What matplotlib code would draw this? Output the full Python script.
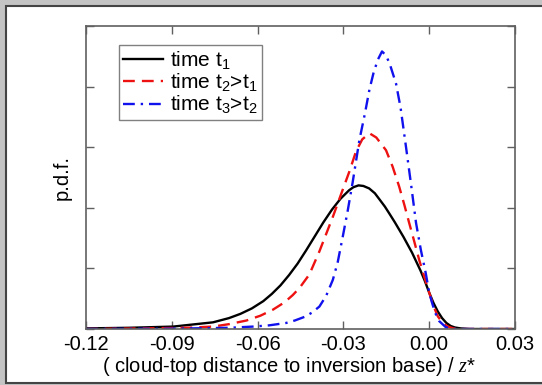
import matplotlib
matplotlib.use("Agg")
import matplotlib.pyplot as plt
from matplotlib.patches import Rectangle

plt.rcParams['font.family'] = ['Liberation Sans', 'DejaVu Sans']
plt.rcParams['mathtext.fontset'] = 'custom'
plt.rcParams['mathtext.it'] = 'Liberation Serif:italic'
plt.rcParams['mathtext.default'] = 'regular'

# pdf of cloud-top distance at three times
x_t1 = [-0.120, -0.105, -0.0895, -0.0756, -0.070, -0.066, -0.062, -0.058, -0.055,
        -0.052, -0.049, -0.046, -0.043, -0.040, -0.037, -0.034, -0.031, -0.028,
        -0.0265, -0.0247, -0.023, -0.021, -0.019, -0.0174, -0.0155, -0.014, -0.012,
        -0.0105, -0.009, -0.0075, -0.006, -0.0046, -0.003, -0.0015, 0.0, 0.0015,
        0.003, 0.0045, 0.006, 0.0075, 0.009, 0.011, 0.014, 0.03]
y_t1 = [0.01, 0.02, 0.04, 0.11, 0.18, 0.25, 0.34, 0.46, 0.58,
        0.72, 0.89, 1.08, 1.30, 1.53, 1.76, 1.97, 2.15, 2.29,
        2.34, 2.37, 2.36, 2.32, 2.24, 2.14, 2.02, 1.91, 1.76,
        1.64, 1.52, 1.39, 1.26, 1.12, 0.96, 0.79, 0.60, 0.43,
        0.29, 0.18, 0.10, 0.05, 0.025, 0.01, 0.0, 0.0]

x_t2 = [-0.120, -0.10, -0.085, -0.0756, -0.070, -0.0639, -0.059, -0.0546, -0.0506,
        -0.0477, -0.0453, -0.0419, -0.0384, -0.0337, -0.031, -0.0279, -0.0256, -0.0234,
        -0.0209, -0.0185, -0.0151, -0.0128, -0.0105, -0.0087, -0.0070, -0.0052, -0.0035,
        -0.0017, 0.0, 0.0015, 0.003, 0.0047, 0.0065, 0.0085, 0.011, 0.03]
y_t2 = [0.0, 0.01, 0.02, 0.04, 0.08, 0.14, 0.22, 0.32, 0.44,
        0.56, 0.68, 0.90, 1.28, 1.85, 2.20, 2.60, 2.93, 3.13,
        3.23, 3.16, 2.95, 2.68, 2.35, 2.05, 1.75, 1.44, 1.14,
        0.86, 0.60, 0.38, 0.21, 0.10, 0.04, 0.01, 0.0, 0.0]

x_t3 = [-0.120, -0.09, -0.070, -0.0616, -0.056, -0.050, -0.047, -0.0436, -0.041,
        -0.0384, -0.036, -0.0337, -0.032, -0.0302, -0.0285, -0.0268, -0.0244, -0.0225,
        -0.0209, -0.0195, -0.0180, -0.0165, -0.0152, -0.0139, -0.0116, -0.010, -0.0081,
        -0.0063, -0.0046, -0.0029, -0.0012, 0.0, 0.0012, 0.0025, 0.0035, 0.0058, 0.008,
        0.03]
y_t3 = [0.0, 0.005, 0.02, 0.04, 0.06, 0.10, 0.14, 0.20, 0.27,
        0.37, 0.55, 0.81, 1.10, 1.53, 1.95, 2.41, 3.12, 3.55,
        3.95, 4.22, 4.44, 4.58, 4.52, 4.39, 4.05, 3.65, 3.00,
        2.37, 1.75, 1.30, 0.92, 0.60, 0.40, 0.22, 0.13, 0.03, 0.0,
        0.0]

labels = ['time t$_1$', 'time t$_2$>t$_1$', 'time t$_3$>t$_2$']
xticks = [-0.12, -0.09, -0.06, -0.03, 0.00, 0.03]

fig = plt.figure(figsize=(5.42, 3.85), dpi=100, facecolor='#c4c4c4')
fig.patches.append(Rectangle((6 / 542, 2 / 385), 1.2, 377 / 385, transform=fig.transFigure,
                             facecolor='white', edgecolor='#444444', lw=1.5, zorder=-1))

ax = fig.add_axes([86 / 542, 1 - 329 / 385, 429 / 542, 303 / 385])
ax.set_zorder(2)
ax.plot(x_t1, y_t1, color='black', lw=1.7, label=labels[0])
ax.plot(x_t2, y_t2, color='#ee1111', lw=1.7, ls=(0, (5, 3)), label=labels[1])
ax.plot(x_t3, y_t3, color='#1111ee', lw=1.7, ls=(0, (5, 2.5, 1, 2.5)), label=labels[2])

ax.set_xlim(-0.12, 0.03)
ax.set_ylim(0, 5)
ax.set_xticks(xticks)
ax.set_xticklabels(['%.2f' % v for v in xticks])
ax.set_yticks([0, 1, 2, 3, 4, 5])
ax.set_yticklabels([])
ax.tick_params(direction='in', length=6, width=1, color='#606060', top=True, right=True,
               labelsize=14.5, pad=4)
for s in ax.spines.values():
    s.set_color('#606060')
    s.set_linewidth(1.2)

ax.set_xlabel('( cloud-top distance to inversion base) / $\\mathit{z}$*', fontsize=14.5, labelpad=1)
ax.xaxis.label.set_x(0.473)
ax.set_ylabel('p.d.f.', fontsize=14.5, labelpad=6)

leg = ax.legend(loc='upper left', bbox_to_anchor=(0.077, 0.937), borderaxespad=0,
                fontsize=15, fancybox=False, framealpha=1, edgecolor='#808080',
                handlelength=1.9, handletextpad=0.35, borderpad=0.2, labelspacing=0.0)
leg.get_frame().set_linewidth(1.0)

fig.savefig('out.png', dpi=100, facecolor=fig.get_facecolor())
